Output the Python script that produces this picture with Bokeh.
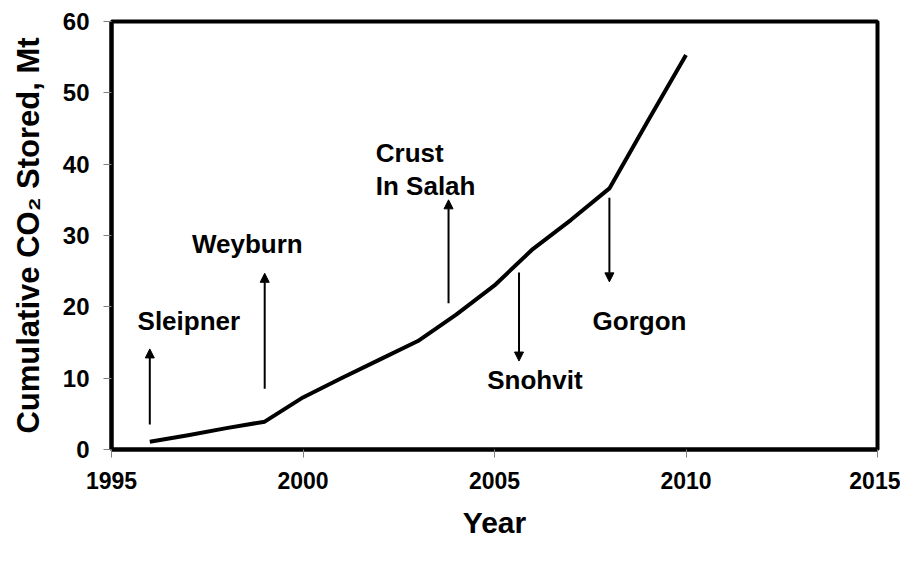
from bokeh.plotting import figure
from bokeh.models import Arrow, NormalHead, ColumnDataSource, FixedTicker, Range1d
from bokeh.core.properties import value
from bokeh.embed import file_html
from bokeh.resources import INLINE

# Data
years = [1996, 1997, 1998, 1999, 2000, 2001, 2002, 2003, 2004, 2005, 2006, 2007, 2008, 2009, 2010]
stored = [1.1, 2.0, 3.0, 3.9, 7.3, 10.0, 12.6, 15.2, 18.9, 23.0, 28.1, 32.2, 36.6, 46.0, 55.3]

project_names = ["Sleipner", "Weyburn", "Crust", "In Salah", "Snohvit", "Gorgon"]
label_x = [1995.68, 1997.1, 2001.9, 2001.9, 2004.81, 2007.56]
label_y = [18.0, 28.8, 41.6, 36.9, 9.8, 18.0]

arrow_x = [1996.0, 1999.0, 2003.8, 2005.64, 2008.0]
arrow_from = [3.5, 8.5, 20.5, 24.8, 35.3]
arrow_to = [14.1, 24.7, 35.0, 12.4, 23.5]

x_ticks = [1995, 2000, 2005, 2010, 2015]
y_ticks = [0, 10, 20, 30, 40, 50, 60]

FONT = "Liberation Sans"

p = figure(width=900, height=547, x_range=Range1d(1995, 2015), y_range=Range1d(0, 60),
           output_backend="svg", toolbar_location=None,
           min_border_left=111, min_border_right=23, min_border_top=21, min_border_bottom=98)

p.background_fill_color = "white"
p.border_fill_color = "white"
p.outline_line_color = "black"
p.outline_line_width = 4
p.xgrid.visible = False
p.ygrid.visible = False

for ax in (p.xaxis[0], p.yaxis[0]):
    ax.axis_line_color = "black"
    ax.axis_line_width = 4
    ax.major_tick_line_color = "#808080"
    ax.major_tick_line_width = 1
    ax.major_tick_out = 8
    ax.major_tick_in = 0
    ax.minor_tick_line_color = None
    ax.major_label_text_font = FONT
    ax.major_label_text_font_style = "bold"
    ax.major_label_text_color = "black"
    ax.axis_label_text_font = FONT
    ax.axis_label_text_font_style = "bold"
    ax.axis_label_text_color = "black"

p.xaxis.ticker = FixedTicker(ticks=x_ticks)
p.yaxis.ticker = FixedTicker(ticks=y_ticks)
p.xaxis.major_label_text_font_size = "23px"
p.yaxis.major_label_text_font_size = "24px"
p.xaxis.axis_label = "Year"
p.yaxis.axis_label = "Cumulative CO\u2082 Stored, Mt"
p.xaxis.axis_label_text_font_size = "30px"
p.yaxis.axis_label_text_font_size = "31px"
p.xaxis.major_label_standoff = 14
p.yaxis.major_label_standoff = 14
p.xaxis.axis_label_standoff = 14
p.yaxis.axis_label_standoff = 14

src = ColumnDataSource(dict(x=years, y=stored))
p.line("x", "y", source=src, line_color="black", line_width=4, line_join="round")

for xa, y0, y1 in zip(arrow_x, arrow_from, arrow_to):
    p.add_layout(Arrow(x_start=xa, y_start=y0, x_end=xa, y_end=y1,
                       line_color="black", line_width=2,
                       end=NormalHead(size=9, fill_color="black", line_color="black", line_width=1)))

lab = ColumnDataSource(dict(x=label_x, y=label_y, t=project_names))
p.text("x", "y", text="t", source=lab, text_font=value(FONT), text_font_style="bold",
       text_font_size="26px", text_baseline="middle", text_align="left", text_color="black")

open("out.html", "w").write(file_html(p, INLINE))
